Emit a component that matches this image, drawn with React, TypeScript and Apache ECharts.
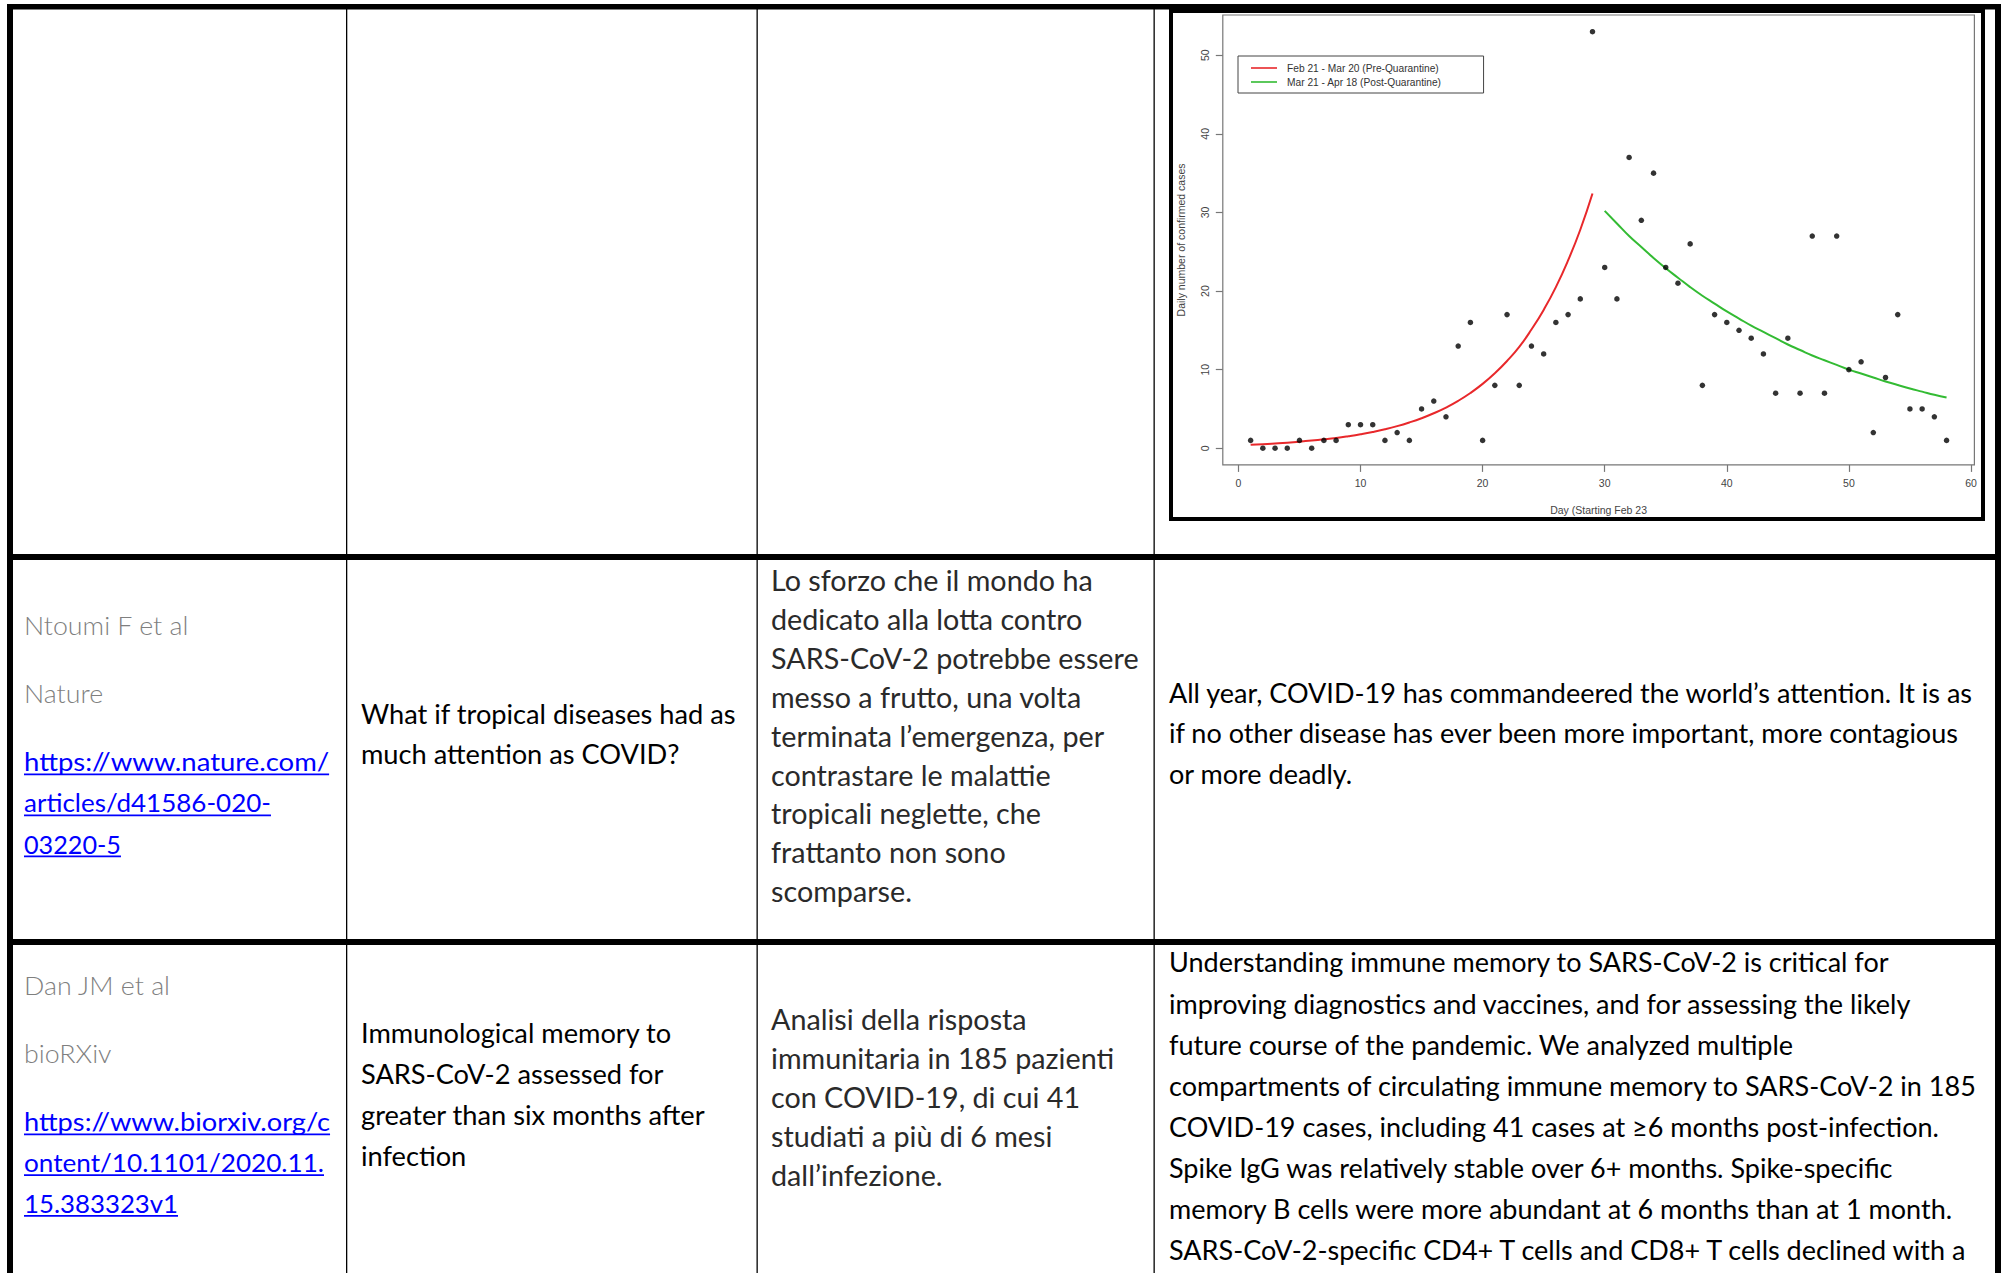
import React, { useEffect, useRef } from "react";
import * as echarts from "echarts";

// ---------------- Chart data ----------------
const days = [
  1, 2, 3, 4, 5, 6, 7, 8, 9, 10, 11, 12, 13, 14, 15, 16, 17, 18, 19, 20,
  21, 22, 23, 24, 25, 26, 27, 28, 29, 30, 31, 32, 33, 34, 35, 36, 37, 38, 39, 40,
  41, 42, 43, 44, 45, 46, 47, 48, 49, 50, 51, 52, 53, 54, 55, 56, 57, 58,
];
const dailyCases = [
  1, 0, 0, 0, 1, 0, 1, 1, 3, 3, 3, 1, 2, 1, 5, 6, 4, 13, 16, 1,
  8, 17, 8, 13, 12, 16, 17, 19, 53, 23, 19, 37, 29, 35, 23, 21, 26, 8, 17, 16,
  15, 14, 12, 7, 14, 7, 27, 7, 27, 10, 11, 2, 9, 17, 5, 5, 4, 1,
];
const preQuarantineDays = [
  1, 2, 3, 4, 5, 6, 7, 8, 9, 10, 11, 12, 13, 14, 15, 16, 17, 18, 19, 20,
  21, 22, 23, 24, 25, 26, 27, 28, 29,
];
const preQuarantineFit = [
  0.45, 0.52, 0.61, 0.71, 0.83, 0.97, 1.13, 1.31, 1.53, 1.78, 2.07, 2.41, 2.81,
  3.28, 3.82, 4.45, 5.18, 6.03, 7.03, 8.19, 9.54, 11.1, 12.9, 15.1, 17.6, 20.5,
  23.9, 27.8, 32.4,
];
const postQuarantineDays = [
  30, 31, 32, 33, 34, 35, 36, 37, 38, 39, 40, 41, 42, 43, 44, 45, 46, 47, 48, 49,
  50, 51, 52, 53, 54, 55, 56, 57, 58,
];
const postQuarantineFit = [
  30.2, 28.6, 27.0, 25.6, 24.2, 22.9, 21.7, 20.5, 19.4, 18.4, 17.4, 16.5, 15.6,
  14.8, 14.0, 13.2, 12.5, 11.8, 11.2, 10.6, 10.0, 9.5, 9.0, 8.5, 8.05, 7.6, 7.2,
  6.8, 6.45,
];
const xTickValues = [0, 10, 20, 30, 40, 50, 60];
const yTickValues = [0, 10, 20, 30, 40, 50];
const seriesNames = [
  "Feb 21 - Mar 20 (Pre-Quarantine)",
  "Mar 21 - Apr 18 (Post-Quarantine)",
];
const xAxisTitle = "Day (Starting Feb 23";
const yAxisTitle = "Daily number of confirmed cases";

// ---------------- Table text ----------------
const row2Authors = ["Ntoumi F et al", "Nature"];
const row2Link = ["https://www.nature.com/", "articles/d41586-020-", "03220-5"];
const row2Title = ["What if tropical diseases had as", "much attention as COVID?"];
const row2Summary = [
  "Lo sforzo che il mondo ha",
  "dedicato alla lotta contro",
  "SARS-CoV-2 potrebbe essere",
  "messo a frutto, una volta",
  "terminata l’emergenza, per",
  "contrastare le malattie",
  "tropicali neglette, che",
  "frattanto non sono",
  "scomparse.",
];
const row2Abstract = [
  "All year, COVID-19 has commandeered the world’s attention. It is as",
  "if no other disease has ever been more important, more contagious",
  "or more deadly.",
];
const row3Authors = ["Dan JM et al", "bioRXiv"];
const row3Link = [
  "https://www.biorxiv.org/c",
  "ontent/10.1101/2020.11.",
  "15.383323v1",
];
const row3Title = [
  "Immunological memory to",
  "SARS-CoV-2 assessed for",
  "greater than six months after",
  "infection",
];
const row3Summary = [
  "Analisi della risposta",
  "immunitaria in 185 pazienti",
  "con COVID-19, di cui 41",
  "studiati a più di 6 mesi",
  "dall’infezione.",
];
const row3Abstract = [
  "Understanding immune memory to SARS-CoV-2 is critical for",
  "improving diagnostics and vaccines, and for assessing the likely",
  "future course of the pandemic. We analyzed multiple",
  "compartments of circulating immune memory to SARS-CoV-2 in 185",
  "COVID-19 cases, including 41 cases at ≥6 months post-infection.",
  "Spike IgG was relatively stable over 6+ months. Spike-specific",
  "memory B cells were more abundant at 6 months than at 1 month.",
  "SARS-CoV-2-specific CD4+ T cells and CD8+ T cells declined with a",
];

// ---------------- Styles / layout ----------------
const PAGE_W = 2008;
const PAGE_H = 1273;
const TEXT_FONT = "Lato, 'Open Sans', 'Noto Sans', sans-serif";
const CHART_FONT = "'Liberation Sans', Arial, sans-serif";
const RED = "#e8282b";
const GREEN = "#33bb33";
const BOX_GRAY = "#777777";
const LABEL_GRAY = "#444444";
// rendered widths (px) of the link lines in the reference layout
const ROW2_LINK_WIDTHS = [305, 247, 97];
const ROW3_LINK_WIDTHS = [306, 300, 154];

let measureCtx: CanvasRenderingContext2D | null = null;
function measure(text: string, size: number, weight: number): number {
  if (!measureCtx) {
    const c = document.createElement("canvas");
    measureCtx = c.getContext("2d");
  }
  if (!measureCtx) return text.length * size * 0.5;
  measureCtx.font = `${weight} ${size}px ${TEXT_FONT}`;
  return measureCtx.measureText(text).width || text.length * size * 0.5;
}

type BlockOpts = {
  x: number;
  y0: number;
  gap: number;
  size: number;
  weight: number;
  color: string;
  scaleX: number;
  underline?: boolean;
  lineWidths?: number[];
};

function textBlock(lines: string[], o: BlockOpts) {
  return lines.map((t, i) => {
    const y = o.y0 + i * o.gap;
    const w = measure(t, o.size, o.weight);
    const s = o.lineWidths && o.lineWidths[i] ? o.lineWidths[i] / w : o.scaleX;
    const children: any[] = [
      {
        type: "text",
        x: 0,
        y,
        style: {
          text: t,
          fill: o.color,
          fontSize: o.size,
          fontFamily: TEXT_FONT,
          fontWeight: o.weight,
          align: "left",
          verticalAlign: "middle",
        },
      },
    ];
    if (o.underline) {
      children.push({
        type: "rect",
        shape: { x: 0, y: y + o.size * 0.47, width: w, height: 1.6 },
        style: { fill: o.color },
      });
    }
    return { type: "group", x: o.x, y: 0, scaleX: s, children };
  });
}

function fitScale(ref: string, target: number, size: number, weight: number) {
  const w = measure(ref, size, weight);
  return w > 0 ? target / w : 1;
}

function buildGraphics() {
  const regSize = 26.4;
  const sumSize = 28.0;
  const graySize = 25.7;
  const sumWeight = 400;
  const sAbs = fitScale(row3Abstract[3], 808, regSize, 400);
  const sTitle = fitScale(row2Title[0], 375, regSize, 400);
  const sSum = fitScale(row2Summary[2], 367.5, sumSize, sumWeight);
  const sGray = fitScale(row2Authors[0], 165, graySize, 300);

  const black = "#000000";
  const gray = "#7f7f7f";
  const blue = "#0000ff";
  const sumColor = "#2a2a2a";

  const borders: any[] = [
    { type: "rect", shape: { x: 7, y: 4, width: 1994, height: 5.5 }, style: { fill: black } },
    { type: "rect", shape: { x: 7, y: 4, width: 6, height: PAGE_H - 4 }, style: { fill: black } },
    { type: "rect", shape: { x: 1995, y: 4, width: 6, height: PAGE_H - 4 }, style: { fill: black } },
    { type: "rect", shape: { x: 7, y: 554, width: 1994, height: 6 }, style: { fill: black } },
    { type: "rect", shape: { x: 7, y: 939, width: 1994, height: 6 }, style: { fill: black } },
    { type: "rect", shape: { x: 346, y: 9, width: 1.3, height: PAGE_H - 9 }, style: { fill: black } },
    { type: "rect", shape: { x: 756.5, y: 9, width: 1.3, height: PAGE_H - 9 }, style: { fill: black } },
    { type: "rect", shape: { x: 1153.5, y: 9, width: 1.3, height: PAGE_H - 9 }, style: { fill: black } },
    // frame of the embedded figure
    {
      type: "rect",
      shape: { x: 1171, y: 11, width: 812, height: 508 },
      style: { fill: "transparent", stroke: black, lineWidth: 4 },
    },
  ];

  const blocks = [
    // row 2
    ...textBlock(row2Authors, { x: 24, y0: 625, gap: 68, size: graySize, weight: 300, color: gray, scaleX: sGray }),
    ...textBlock(row2Link, { x: 24, y0: 761.5, gap: 41, size: graySize, weight: 400, color: blue, scaleX: 1, underline: true, lineWidths: ROW2_LINK_WIDTHS }),
    ...textBlock(row2Title, { x: 361, y0: 714, gap: 40.5, size: regSize, weight: 400, color: black, scaleX: sTitle }),
    ...textBlock(row2Summary, { x: 771, y0: 580, gap: 38.94, size: sumSize, weight: sumWeight, color: sumColor, scaleX: sSum }),
    ...textBlock(row2Abstract, { x: 1169, y0: 693, gap: 40.5, size: regSize, weight: 400, color: black, scaleX: sAbs }),
    // row 3
    ...textBlock(row3Authors, { x: 24, y0: 985, gap: 68, size: graySize, weight: 300, color: gray, scaleX: sGray }),
    ...textBlock(row3Link, { x: 24, y0: 1121.5, gap: 40.75, size: graySize, weight: 400, color: blue, scaleX: 1, underline: true, lineWidths: ROW3_LINK_WIDTHS }),
    ...textBlock(row3Title, { x: 361, y0: 1033, gap: 41, size: regSize, weight: 400, color: black, scaleX: sTitle }),
    ...textBlock(row3Summary, { x: 771, y0: 1019.5, gap: 39, size: sumSize, weight: sumWeight, color: sumColor, scaleX: sSum }),
    ...textBlock(row3Abstract, { x: 1169, y0: 962.5, gap: 41.15, size: regSize, weight: 400, color: black, scaleX: sAbs }),
  ];

  return [...borders, ...blocks];
}

function buildOption(): any {
  return {
    animation: false,
    backgroundColor: "#ffffff",
    textStyle: { fontFamily: CHART_FONT },
    grid: {
      left: 1222.8,
      top: 15,
      width: 751.6,
      height: 449.9,
      show: true,
      borderColor: BOX_GRAY,
      borderWidth: 1.2,
      backgroundColor: "transparent",
      containLabel: false,
    },
    xAxis: {
      type: "value",
      min: -1.28,
      max: 60.28,
      name: xAxisTitle,
      nameLocation: "middle",
      nameGap: 40,
      nameTextStyle: { fontSize: 10.5, color: LABEL_GRAY, fontFamily: CHART_FONT },
      axisLine: { show: false, onZero: false },
      axisTick: { show: true, length: 7, lineStyle: { color: BOX_GRAY, width: 1.2 }, customValues: xTickValues },
      axisLabel: { customValues: xTickValues, margin: 13, fontSize: 10.5, color: LABEL_GRAY, fontFamily: CHART_FONT },
      splitLine: { show: false },
    },
    yAxis: {
      type: "value",
      min: -2.12,
      max: 55.12,
      name: yAxisTitle,
      nameLocation: "middle",
      nameRotate: 90,
      nameGap: 36,
      nameTextStyle: { fontSize: 10.5, color: LABEL_GRAY, fontFamily: CHART_FONT },
      axisLine: { show: false, onZero: false },
      axisTick: { show: true, length: 7, lineStyle: { color: BOX_GRAY, width: 1.2 }, customValues: yTickValues },
      axisLabel: { customValues: yTickValues, rotate: 90, margin: 12, fontSize: 10.5, color: LABEL_GRAY, fontFamily: CHART_FONT },
      splitLine: { show: false },
    },
    legend: {
      orient: "vertical",
      left: 1238,
      top: 56,
      padding: [6, 42, 5, 13],
      borderColor: "#444444",
      borderWidth: 1,
      itemWidth: 26,
      itemHeight: 1.6,
      itemGap: 2,
      icon: "rect",
      selectedMode: false,
      data: seriesNames,
      textStyle: { fontSize: 10.2, color: "#333333", lineHeight: 12, padding: [0, 0, 0, 5], fontFamily: CHART_FONT },
    },
    graphic: buildGraphics(),
    series: [
      {
        type: "scatter",
        data: days.map((d, i) => [d, dailyCases[i]]),
        symbolSize: 5.5,
        itemStyle: { color: "#000000" },
        z: 4,
      },
      {
        type: "line",
        name: seriesNames[0],
        data: preQuarantineDays.map((d, i) => [d, preQuarantineFit[i]]),
        smooth: true,
        showSymbol: false,
        symbol: "none",
        color: RED,
        itemStyle: { color: RED },
        lineStyle: { width: 2, color: RED },
        z: 3,
      },
      {
        type: "line",
        name: seriesNames[1],
        data: postQuarantineDays.map((d, i) => [d, postQuarantineFit[i]]),
        smooth: true,
        showSymbol: false,
        symbol: "none",
        color: GREEN,
        itemStyle: { color: GREEN },
        lineStyle: { width: 2, color: GREEN },
        z: 3,
      },
    ],
  };
}

export default function App() {
  const ref = useRef<HTMLDivElement>(null);
  useEffect(() => {
    if (!ref.current) return;
    const chart = echarts.init(ref.current, null, { renderer: "svg" });
    chart.setOption(buildOption());
    return () => {
      chart.dispose();
    };
  }, []);
  return (
    <div
      ref={ref}
      style={{ position: "absolute", left: 0, top: 0, width: PAGE_W, height: PAGE_H, background: "#ffffff" }}
    />
  );
}
